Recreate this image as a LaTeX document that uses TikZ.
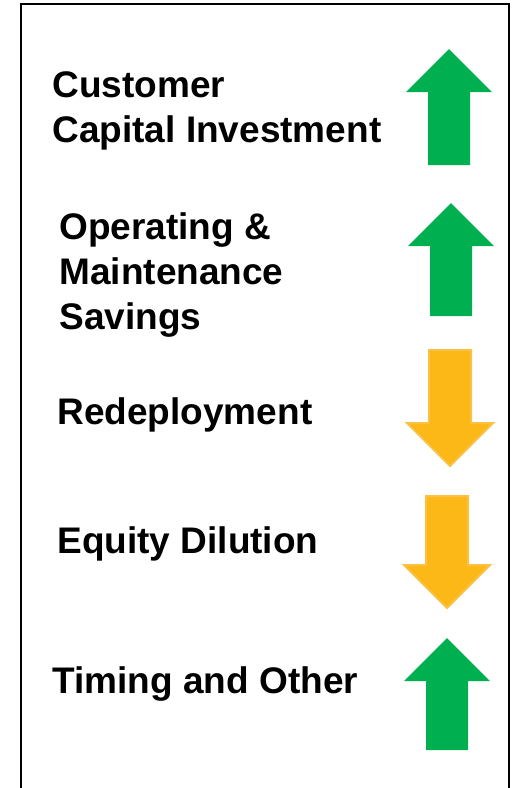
\documentclass[tikz,border=0pt]{standalone}
\usepackage{fontspec}
\setmainfont{Liberation Sans}
\usepackage{xcolor}
\usepackage{tikz}
\definecolor{risegreen}{HTML}{00B050}
\definecolor{fallorange}{HTML}{FBB817}
\definecolor{falledge}{HTML}{FCC044}
\tikzset{
  driverlabel/.style={
    anchor=base west,
    inner sep=0pt,
    align=left,
    font=\bfseries\fontsize{18.5}{22.5}\selectfont
  },
  risearrow/.style={
    fill=risegreen,
    draw=none
  },
  fallarrow/.style={
    fill=fallorange,
    draw=falledge,
    line width=1pt,
    line join=miter
  },
  framebox/.style={
    draw=black,
    line width=1pt
  }
}

\begin{document}
\begin{tikzpicture}[x=0.5pt,y=-0.5pt]
    \useasboundingbox (0,0) rectangle (512,788);
    \clip (0,0) rectangle (512,788);
    \draw[framebox] (21,4) rectangle (509,800);

    % multi-line labels sit on the baseline of their last line
    \node[driverlabel] (capital) at (52,142) {Customer\\Capital Investment};
    \node[driverlabel] (savings) at (59,329) {Operating \&\\Maintenance\\Savings};
    \node[driverlabel] (redeploy) at (57,424) {Redeployment};
    \node[driverlabel] (dilution) at (57,553) {Equity Dilution};
    \node[driverlabel] (timing) at (52,693) {Timing and Other};

    % arrows: tip x, tip y, length, direction (1 = up, -1 = down)
    \foreach \tx/\ty/\len/\dir/\kind in {449/49/116/1/risearrow,
                                       451/203/113/1/risearrow,
                                       450/466/116/-1/fallarrow,
                                       447/608/112/-1/fallarrow,
                                       447/638/112/1/risearrow}{
        \draw[\kind] (\tx,\ty) -- ++(43,43*\dir) -- ++(-22,0)
            -- ++(0,{(\len-43)*\dir}) -- ++(-42,0)
            -- ++(0,{-(\len-43)*\dir}) -- ++(-22,0) -- cycle;
    }
\end{tikzpicture}
\end{document}
